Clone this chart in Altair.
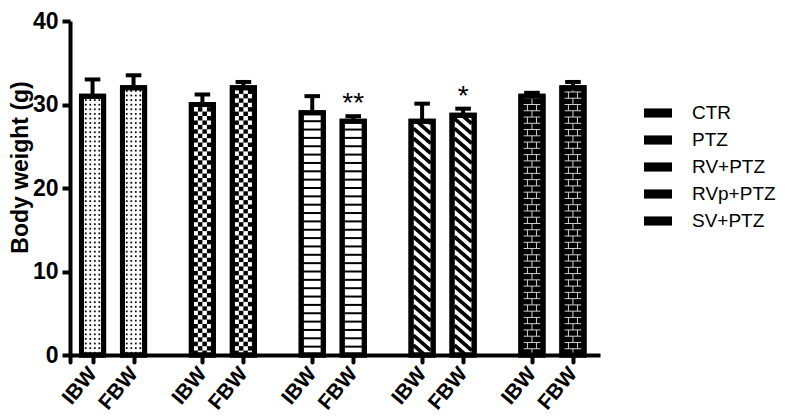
import altair as alt
import pandas as pd

# ---- data ----
groups = ["CTR", "PTZ", "RV+PTZ", "RVp+PTZ", "SV+PTZ"]
measures = ["IBW", "FBW"]
values = [31.0, 32.0, 30.0, 32.0, 29.0, 28.0, 28.0, 28.7, 31.0, 32.0]
errors = [2.0, 1.5, 1.2, 0.7, 2.0, 0.6, 2.1, 0.8, 0.4, 0.7]
stars = ["", "", "", "", "", "**", "", "*", "", ""]
y_ticks = [0, 10, 20, 30, 40]

rows = []
for gi, g in enumerate(groups):
    for mi, m in enumerate(measures):
        i = gi * 2 + mi
        rows.append(dict(group=g, measure=m, gi=gi, mi=mi,
                         value=values[i], err=errors[i], star=stars[i]))
df = pd.DataFrame(rows)

# ---- layout constants ----
GROUP_STEP = 2.68
HALF = 0.27
INNER = 0.21
FONT = "Liberation Sans"

x_ticks = [-0.55] + [r["gi"] * GROUP_STEP + r["mi"] for r in rows]

xscale = alt.Scale(domain=[-0.55, 12.38], nice=False, zero=False)
yscale = alt.Scale(domain=[0, 40], nice=False, zero=True)

X_AXIS = alt.Axis(
    values=x_ticks, title=None, grid=False,
    labelExpr=(f"datum.value < 0 ? '' : ((datum.value - floor((datum.value + 0.5) / {GROUP_STEP}) * {GROUP_STEP}) > 0.5 ? 'FBW' : 'IBW')"),
    labelAngle=-50, labelAlign="right", labelBaseline="middle",
    labelOverlap=False, labelFlush=False, labelBound=False,
    labelFont=FONT, labelFontSize=21, labelFontWeight="bold", labelColor="black",
    labelPadding=8, tickSize=7, tickWidth=4, tickColor="black", tickCap="round",
    domainWidth=4, domainColor="black", zindex=1,
)
Y_AXIS = alt.Axis(
    values=y_ticks, title="Body weight (g)", grid=False,
    labelOverlap=False,
    labelFont=FONT, labelFontSize=23, labelFontWeight="bold", labelColor="black",
    labelPadding=4, tickSize=8, tickWidth=4, tickColor="black",
    domainWidth=4, domainColor="black",
    titleFont=FONT, titleFontSize=23, titleFontWeight="bold", titleColor="black",
    titleAngle=-90, titleBaseline="top", titleAlign="center",
    titleX=-61, titleY=146, zindex=1,
)


def X(field):
    return alt.X(field, type="quantitative", scale=xscale, axis=X_AXIS)


def Y(field):
    return alt.Y(field, type="quantitative", scale=yscale, axis=Y_AXIS)


base = alt.Chart(df).transform_calculate(
    pos=f"datum.gi * {GROUP_STEP} + datum.mi",
    xl=f"datum.pos - {HALF}",
    xr=f"datum.pos + {HALF}",
    xil=f"datum.pos - {INNER}",
    xir=f"datum.pos + {INNER}",
    top="datum.value + datum.err",
)

legend = alt.Legend(
    title=None, orient="none", legendX=574, legendY=78,
    symbolType="M-1,-0.18H1V0.18H-1Z", symbolSize=529,
    symbolStrokeWidth=5, symbolStrokeColor="black",
    labelFont=FONT, labelFontSize=19, labelColor="black",
    labelOffset=20, rowPadding=0, padding=0,
)

bars = base.mark_rect(stroke="black", strokeWidth=5).encode(
    x=X("xl"), x2="xr", y=Y("value"), y2=alt.datum(0),
    fill=alt.Fill("group:N", sort=None,
                  scale=alt.Scale(domain=groups,
                                  range=["white", "white", "white", "white", "black"]),
                  legend=legend),
)

# CTR: dots
dots = (base.transform_filter("datum.group == 'CTR'")
        .transform_calculate(ri="sequence(0, floor(datum.value / 0.55))")
        .transform_flatten(["ri"])
        .transform_calculate(ci="[-0.165, -0.055, 0.055, 0.165]")
        .transform_flatten(["ci"])
        .transform_calculate(px="datum.pos + datum.ci", py="(datum.ri + 0.5) * 0.55")
        .mark_square(size=3, color="black", filled=True, opacity=1)
        .encode(x=X("px"), y=Y("py")))

# PTZ: checkerboard
checks = (base.transform_filter("datum.group == 'PTZ'")
          .transform_calculate(ri="sequence(0, floor(datum.value / 0.53))")
          .transform_flatten(["ri"])
          .transform_calculate(ci="[0, 1, 2, 3]")
          .transform_flatten(["ci"])
          .transform_filter("(datum.ri + datum.ci) % 2 == 0")
          .transform_calculate(px="datum.pos + (datum.ci - 1.5) * 0.11",
                               py="(datum.ri + 0.5) * 0.53")
          .mark_square(size=20, color="black", filled=True, opacity=1)
          .encode(x=X("px"), y=Y("py")))

# RV+PTZ: horizontal lines
hlines = (base.transform_filter("datum.group == 'RV+PTZ'")
          .transform_calculate(ky="sequence(1, datum.value - 0.2)")
          .transform_flatten(["ky"])
          .mark_rule(color="black", strokeWidth=2)
          .encode(x=X("xl"), x2="xr", y=Y("ky")))

# RVp+PTZ: diagonal stripes
P, S = 1.18, 1.8
diag = (base.transform_filter("datum.group == 'RVp+PTZ'")
        .transform_calculate(k=f"sequence(1, ceil((datum.value + {S}) / {P}) + 1)")
        .transform_flatten(["k"])
        .transform_calculate(yl=f"datum.k * {P}", yr=f"datum.k * {P} - {S}")
        .transform_filter("datum.yr < datum.value")
        .transform_calculate(
            x1=f"datum.yl > datum.value ? datum.xil + (datum.yl - datum.value) / {S} * {2*INNER} : datum.xil",
            y1="min(datum.yl, datum.value)",
            x2=f"datum.yr < 0 ? datum.xil + datum.yl / {S} * {2*INNER} : datum.xir",
            y2="max(datum.yr, 0)")
        .mark_rule(color="black", strokeWidth=3.7, strokeCap="butt")
        .encode(x=X("x1"), x2="x2", y=Y("y1"), y2="y2"))

# SV+PTZ: bricks
BH = 0.75
brick_h = (base.transform_filter("datum.group == 'SV+PTZ'")
           .transform_calculate(ky=f"sequence(1, datum.value / {BH})")
           .transform_flatten(["ky"])
           .transform_calculate(by=f"datum.ky * {BH}")
           .transform_filter("datum.by < datum.value - 0.2")
           .mark_rule(color="#d0d0d0", strokeWidth=1)
           .encode(x=X("xil"), x2="xir", y=Y("by")))
brick_v = (base.transform_filter("datum.group == 'SV+PTZ'")
           .transform_calculate(ri=f"sequence(0, ceil(datum.value / {BH}))")
           .transform_flatten(["ri"])
           .transform_calculate(off="datum.ri % 2 == 0 ? [0] : [-0.11, 0.11]")
           .transform_flatten(["off"])
           .transform_calculate(bx="datum.pos + datum.off",
                                b1=f"datum.ri * {BH}",
                                b2=f"min((datum.ri + 1) * {BH}, datum.value)")
           .transform_filter("datum.b1 < datum.value")
           .mark_rule(color="#d0d0d0", strokeWidth=1)
           .encode(x=X("bx"), y=Y("b1"), y2="b2"))

outline = base.mark_rect(fill="white", fillOpacity=0, stroke="black", strokeWidth=5).encode(
    x=X("xl"), x2="xr", y=Y("value"), y2=alt.datum(0))

err_line = base.mark_rule(color="black", strokeWidth=4).encode(
    x=X("pos"), y=Y("value"), y2="top")
err_cap = (base.transform_calculate(cl="datum.pos - 0.19", cr="datum.pos + 0.19")
           .mark_rule(color="black", strokeWidth=4)
           .encode(x=X("cl"), x2="cr", y=Y("top")))

star_text = (base.transform_filter("datum.star != ''")
             .mark_text(font=FONT, fontSize=28, color="black", align="center",
                        baseline="alphabetic", dy=-4)
             .encode(x=X("pos"), y=Y("top"), text="star:N"))

chart = alt.layer(
    bars, dots, checks, hlines, diag, brick_h, brick_v, outline,
    err_line, err_cap, star_text,
).properties(
    width=530, height=334,
    padding={"left": 62, "top": 13, "right": 179, "bottom": 65},
    autosize=alt.AutoSizeParams(type="none"),
    background="white",
).configure_view(stroke=None)

chart.save("out.html", embed_options={"renderer": "svg", "actions": False})
